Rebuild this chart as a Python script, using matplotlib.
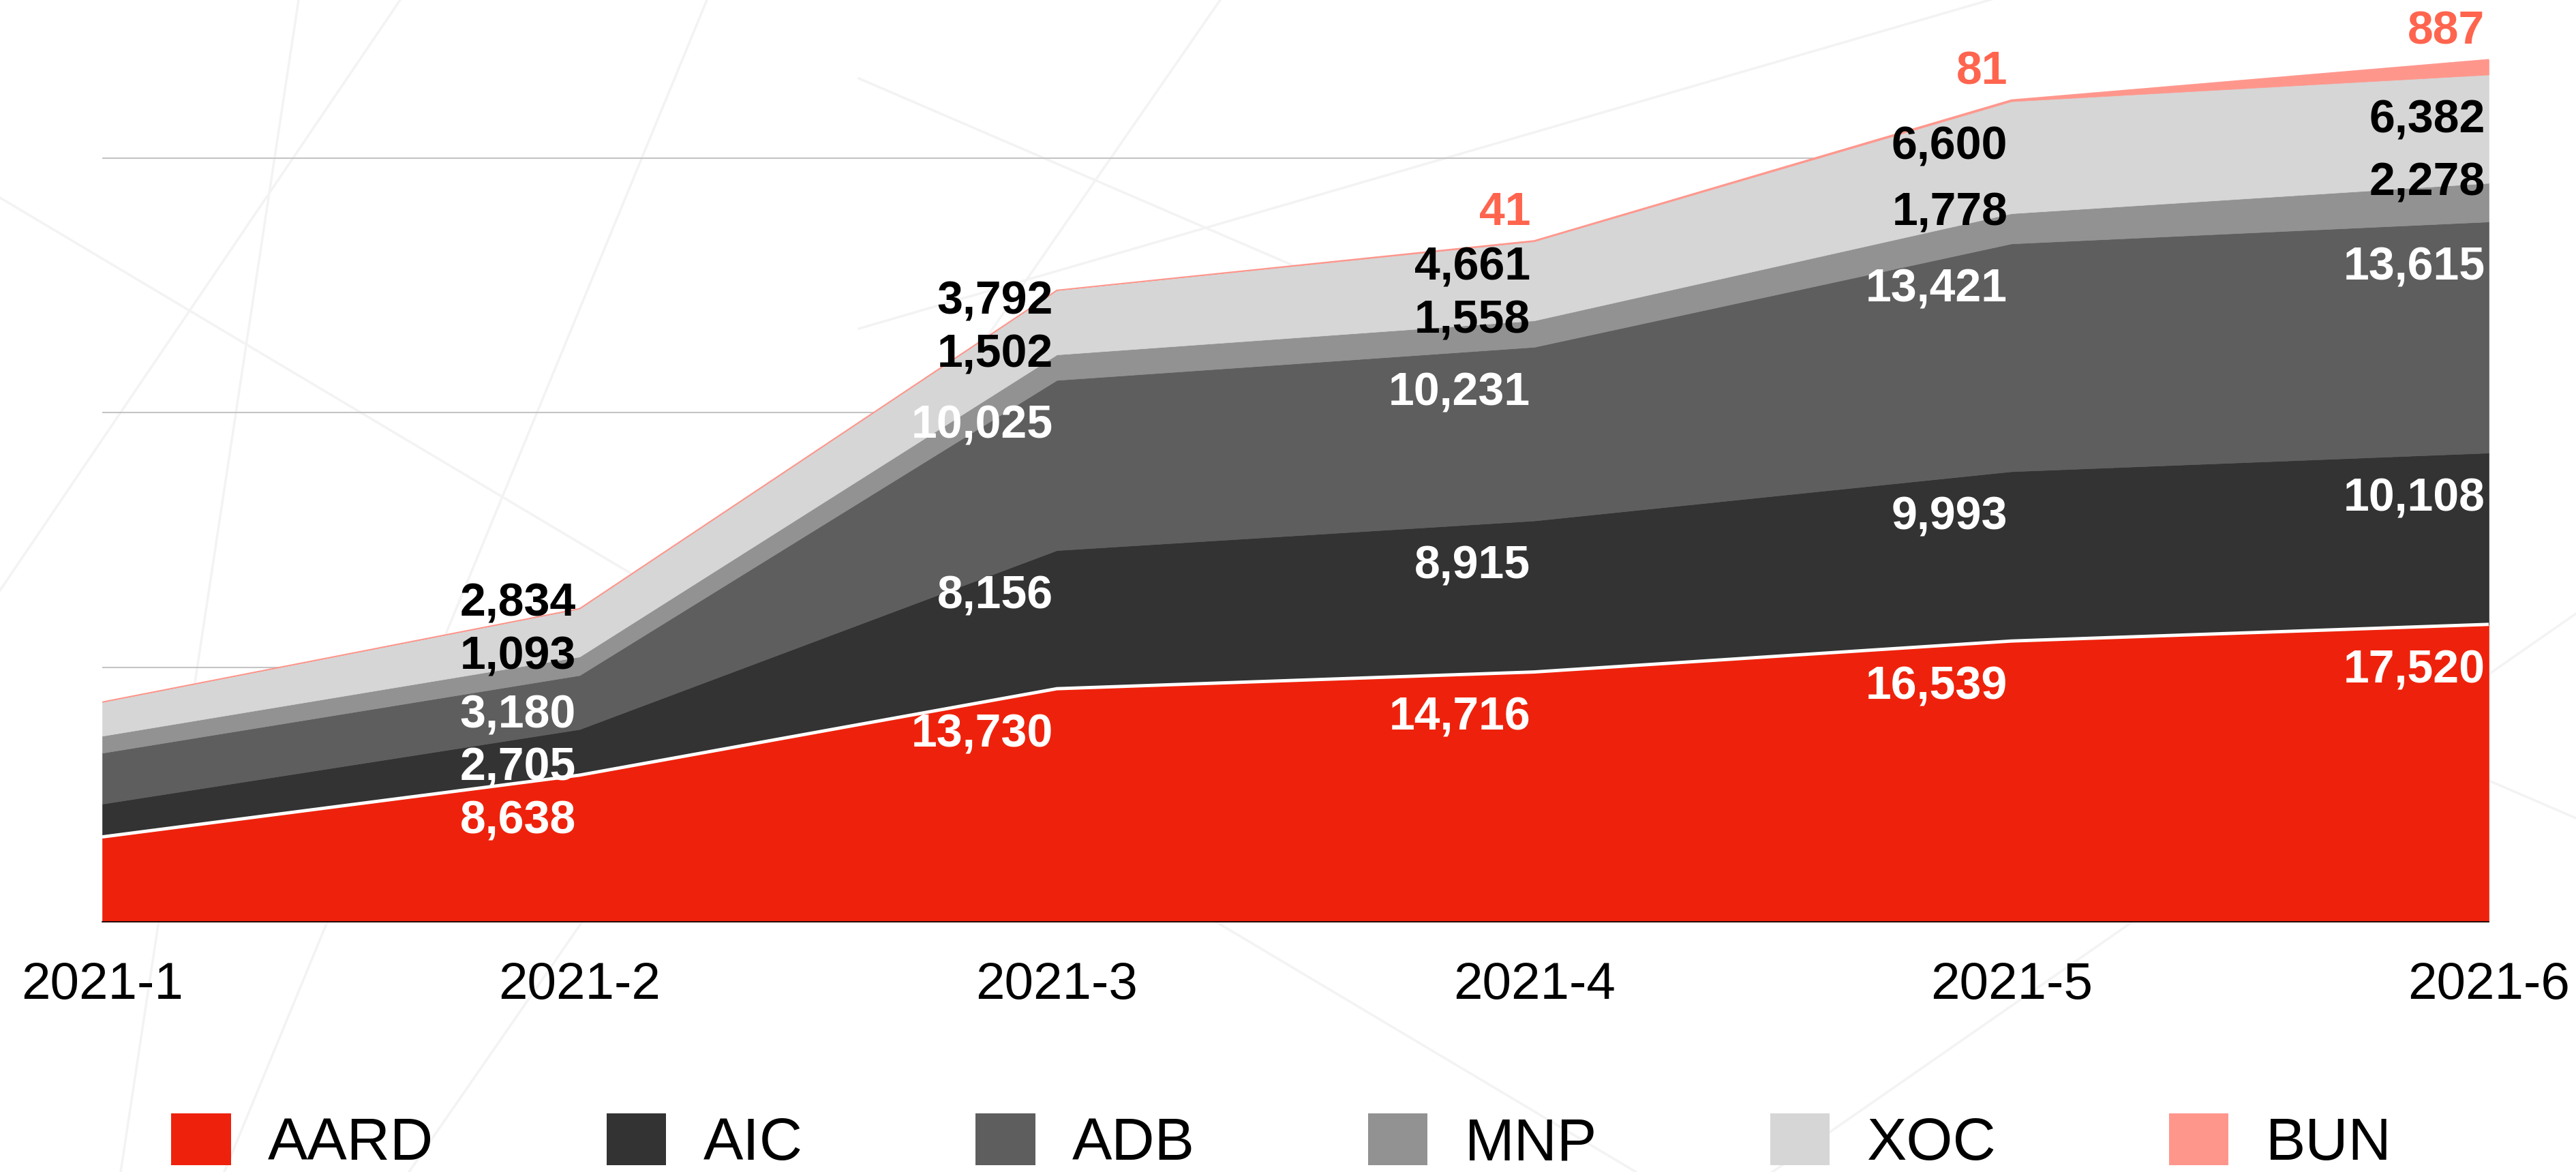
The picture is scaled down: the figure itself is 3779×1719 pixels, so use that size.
import matplotlib.pyplot as plt
from matplotlib.patches import Patch
from matplotlib.lines import Line2D
import numpy as np

plt.rcParams['font.family'] = ['Liberation Sans', 'DejaVu Sans']

# data (month 1 has no labels, estimated from the areas)
months = ['2021-1', '2021-2', '2021-3', '2021-4', '2021-5', '2021-6']
series = ['AARD', 'AIC', 'ADB', 'MNP', 'XOC', 'BUN']
aard = [5000, 8638, 13730, 14716, 16539, 17520]
aic = [1950, 2705, 8156, 8915, 9993, 10108]
adb = [3000, 3180, 10025, 10231, 13421, 13615]
mnp = [1000, 1093, 1502, 1558, 1778, 2278]
xoc = [2000, 2834, 3792, 4661, 6600, 6382]
bun = [0, 0, 0, 41, 81, 887]

colors = ['#ee220c', '#333333', '#5e5e5e', '#929292', '#d6d6d6', '#ff968c']
label_colors = ['white', 'white', 'white', 'black', 'black', '#ff644e']

data = np.array([aard, aic, adb, mnp, xoc, bun], dtype=float)
tops = data.cumsum(axis=0)
x = np.arange(len(months))

W, H = 3779, 1719
fig = plt.figure(figsize=(W / 100, H / 100), dpi=100)

# faint decorative lines of the background (pixel coords, origin top-left)
deco = [((438, 0), (177, 1719)), ((1037, 0), (329, 1719)),
        ((0, 290), (2400, 1719)), ((0, 866), (587, 0)),
        ((1790, 0), (600, 1719)), ((1260, 482), (3779, -250)),
        ((1260, 115), (3779, 1200)), ((2600, 1719), (3779, 900))]
for (x0, y0), (x1, y1) in deco:
    fig.add_artist(Line2D([x0 / W, x1 / W], [1 - y0 / H, 1 - y1 / H],
                          transform=fig.transFigure, color='#f3f3f3', lw=2.5, zorder=-1))

ax = fig.add_axes([150 / W, 1 - 1352 / H, (3651 - 150) / W, 1352 / H])
ax.patch.set_alpha(0)

polys = ax.stackplot(x, data, colors=colors)
for p, c in zip(polys, colors):
    p.set_edgecolor(c)
    p.set_linewidth(0.5)
ax.plot(x, tops[0], color='white', lw=3.5, solid_capstyle='butt')
ax.plot(x, tops[-1], color=colors[-1], lw=1.2)

ax.set_xlim(0, len(months) - 1)
ax.set_ylim(0, 54300)
ax.set_yticks([15000, 30000, 45000])
ax.yaxis.grid(True, color='#c4c4c4', lw=1.5)
ax.set_axisbelow(True)
ax.tick_params(axis='y', left=False, labelleft=False)
ax.set_xticks(x, months)
ax.tick_params(axis='x', length=0, pad=42, labelsize=55)
for s in ['top', 'left', 'right']:
    ax.spines[s].set_visible(False)
ax.spines['bottom'].set_linewidth(1.2)
ax.spines['bottom'].set_zorder(5)

# value labels: just under each band's top edge, thin bands on the edge,
# top band above; then pushed up so they don't collide
below, above, gap, thin = 2700, 1650, 3100, 2500
n = len(series)
for j in range(1, len(months)):
    prev = None
    for i in range(n):
        v = data[i, j]
        if v == 0:
            continue
        top = tops[i, j]
        if i == n - 1:
            y = top + above
        elif v < thin:
            y = top
        else:
            y = top - below
        if prev is not None and y < prev + gap:
            y = prev + gap
        prev = y
        ax.annotate(f'{int(v):,}', (j, y), xytext=(-4, 0), textcoords='offset points',
                    ha='right', va='center', fontsize=49, fontweight='bold',
                    color=label_colors[i], zorder=6)

handles = [Patch(facecolor=c, edgecolor='none') for c in colors]
fig.legend(handles, series, loc='lower left', bbox_to_anchor=(251 / W, 0.0),
           ncol=6, frameon=False, fontsize=63, handlelength=1.0, handleheight=0.95,
           handletextpad=0.62, columnspacing=2.9, borderpad=0, borderaxespad=0)

fig.savefig('out.png', dpi=100)
